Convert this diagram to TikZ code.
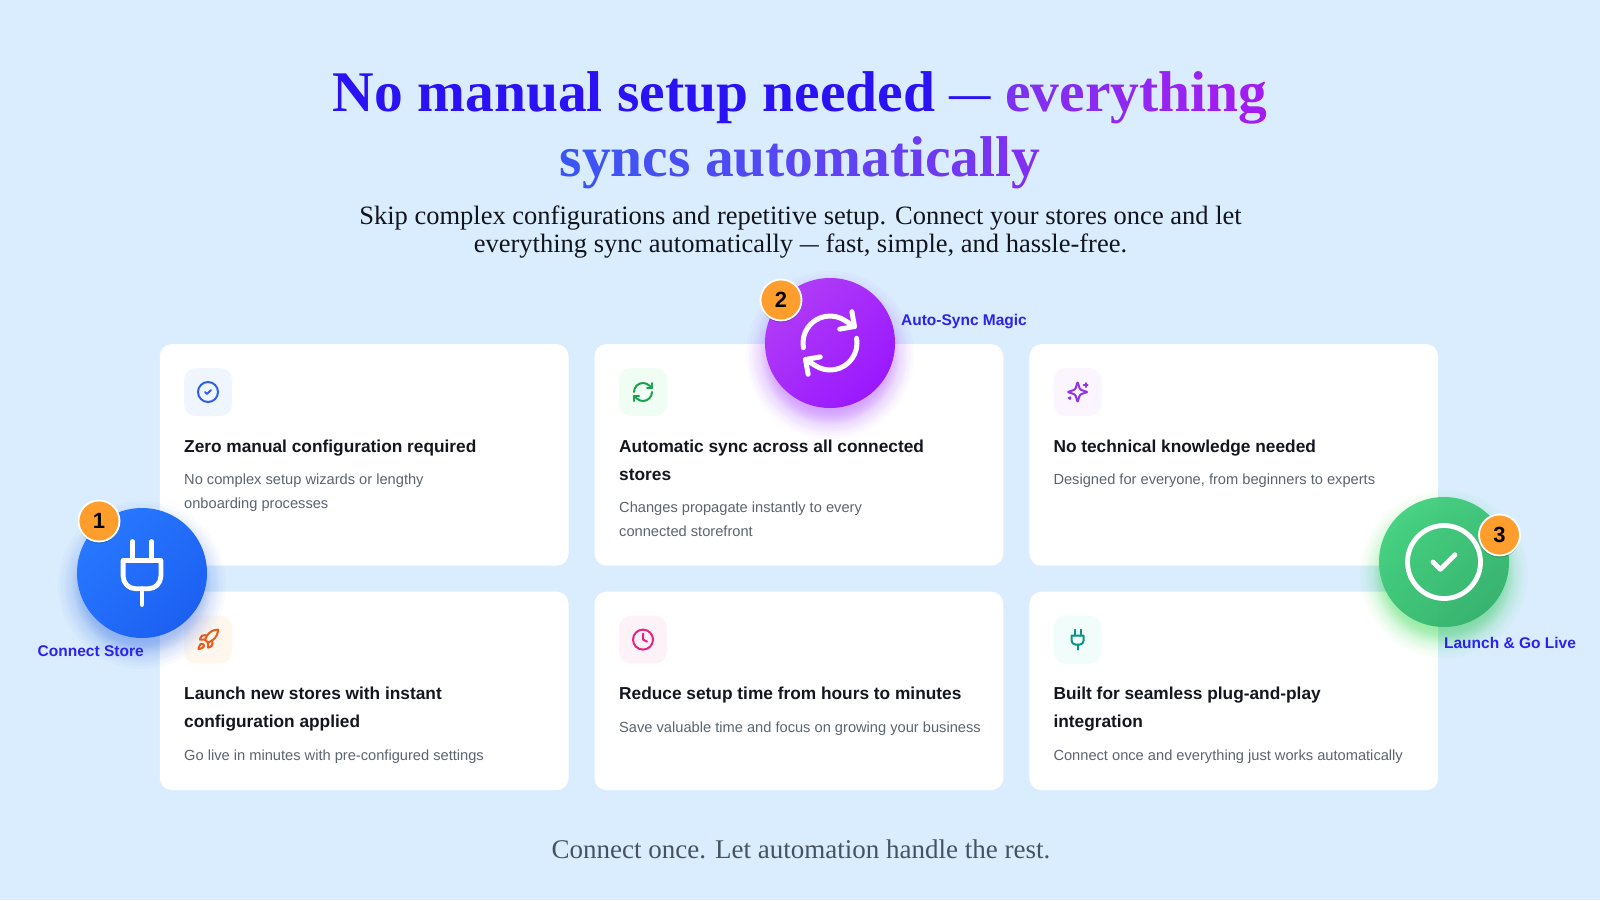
\documentclass[tikz,border=0pt]{standalone}
\usepackage{fontspec}
\usepackage{graphicx}
\setmainfont{Liberation Serif}
\setsansfont{Liberation Sans}
\usetikzlibrary{shadows}

\definecolor{pagebg}{HTML}{DAEDFE}
\definecolor{headblue}{HTML}{2A12F5}
\definecolor{gradstart}{HTML}{3B55F5}
\definecolor{gradend}{HTML}{A61CF0}
\definecolor{subink}{HTML}{12141C}
\definecolor{footink}{HTML}{46535F}
\definecolor{titleink}{HTML}{14161F}
\definecolor{descink}{HTML}{5C6470}
\definecolor{labelblue}{HTML}{2B22F0}
\definecolor{badgeorange}{HTML}{FF9E2D}
\definecolor{plugA}{HTML}{2878FF}
\definecolor{plugB}{HTML}{1C60F2}
\definecolor{syncA}{HTML}{B03CF6}
\definecolor{syncB}{HTML}{9A18FF}
\definecolor{checkA}{HTML}{42D07F}
\definecolor{checkB}{HTML}{35B26E}
\definecolor{boxblue}{HTML}{EFF6FF}
\definecolor{boxgreen}{HTML}{F0FDF4}
\definecolor{boxviolet}{HTML}{FAF5FF}
\definecolor{boxorange}{HTML}{FFF7ED}
\definecolor{boxpink}{HTML}{FDF2F8}
\definecolor{boxteal}{HTML}{F0FDFA}
\definecolor{inkblue}{HTML}{2F5FEB}
\definecolor{inkgreen}{HTML}{16A34A}
\definecolor{inkviolet}{HTML}{9333EA}
\definecolor{inkorange}{HTML}{EE5A1C}
\definecolor{inkpink}{HTML}{E9217F}
\definecolor{inkteal}{HTML}{0D9488}

\newcount\gradpct
\newcount\gradstep
\def\gradnext#1{\ifx#1\relax\else\textcolor{gradend!\the\gradpct!gradstart}{#1}\advance\gradpct by\gradstep\expandafter\gradnext\fi}
\newcommand\gradword[3]{\gradpct=#1\relax\gradstep=#2\relax\gradnext#3\relax}
\newcommand\thindash{{\mdseries\scalebox{.72}[1]{---}}}

\newcommand\drawplug{
  \draw (12,22) -- (12,17);
  \draw (9,8) -- (9,2);
  \draw (15,8) -- (15,2);
  \draw (6,8) -- (18,8) -- (18,13) arc[start angle=0,end angle=-90,radius=4pt] -- (10,17) arc[start angle=-90,end angle=-180,radius=4pt] -- cycle;
}
\newcommand\drawsync{
  \draw (3,12) arc[start angle=180,end angle=45,radius=9pt] -- (21,8);
  \draw (21,3) -- (21,8) -- (16,8);
  \draw (21,12) arc[start angle=0,end angle=-135,radius=9pt] -- (3,16);
  \draw (8,16) -- (3,16) -- (3,21);
}
\newcommand\drawcheck{
  \draw (12,12) circle[radius=10pt];
  \draw (9,12) -- (11,14) -- (15,10);
}
\newcommand\glowdisc[3]{
  \foreach \r in {46,50,53,56,58,60,61,62,63,64,65,66,67,68,69,70,72,74,76,78,81,84}
    \fill[#3,opacity=.022] (#1,#2+12) circle[radius=\r pt];
}

\tikzset{
  x=1pt, y=-1pt,
  card/.style={rectangle,fill=white,rounded corners=12pt,minimum width=408.7pt,inner sep=0pt},
  iconbox/.style={rectangle,rounded corners=12pt,minimum size=48pt,inner sep=0pt},
  headtext/.style={anchor=base,align=center,inner sep=0pt,text=headblue,font=\bfseries\fontsize{57.5}{64.5}\selectfont},
  subtext/.style={anchor=base,align=center,inner sep=0pt,text=subink,font=\fontsize{26.5}{28}\selectfont},
  foottext/.style={anchor=base,inner sep=0pt,text=footink,font=\fontsize{27}{30}\selectfont},
  cardtitle/.style={anchor=base west,align=left,inner sep=0pt,text=titleink,font=\sffamily\bfseries\fontsize{17.3}{28}\selectfont},
  carddesc/.style={anchor=base west,align=left,inner sep=0pt,text=descink,font=\sffamily\fontsize{14.65}{24}\selectfont},
  steplabel/.style={anchor=base,inner sep=0pt,text=labelblue,font=\sffamily\bfseries\fontsize{15.5}{18}\selectfont},
  bigdot/.style 2 args={circle,minimum size=130pt,inner sep=0pt,top color=#1,bottom color=#2,shading angle=45},
  badge/.style={circle,fill=badgeorange,draw=white,line width=1.8pt,minimum size=41pt,inner sep=0pt,text=black,font=\sffamily\bfseries\fontsize{22}{24}\selectfont,drop shadow={shadow xshift=0pt,shadow yshift=-2pt,opacity=.2,fill=black}},
  iconat/.style 2 args={shift={#1},scale=#2,shift={(-12,-12)},line cap=round,line join=round},
}

\begin{document}
\begin{tikzpicture}
\useasboundingbox (0,0) rectangle (1600,900);
\fill[pagebg] (0,0) rectangle (1600,900);

\node[headtext] (headline) at (800,176) {No manual setup needed \thindash{} \gradword{62}{4}{everything}\\\gradword{0}{3}{syncs}\ \gradword{17}{4}{automatically}};
\node[subtext] (subline) at (800.5,252.6) {Skip complex configurations and repetitive setup. Connect your stores once and let\\everything sync automatically \thindash{} fast, simple, and hassle-free.};
\node[foottext] (footline) at (801,858.6) {Connect once. Let automation handle the rest.};

\node[card,minimum height=221.5pt] (cardA) at (364.2,454.9) {};
\node[card,minimum height=221.5pt] (cardB) at (798.9,454.9) {};
\node[card,minimum height=221.5pt] (cardC) at (1233.8,454.9) {};
\node[card,minimum height=198.5pt] (cardD) at (364.2,690.9) {};
\node[card,minimum height=198.5pt] (cardE) at (798.9,690.9) {};
\node[card,minimum height=198.5pt] (cardF) at (1233.8,690.9) {};

\node[iconbox,fill=boxblue] (boxA) at (208,392) {};
\node[iconbox,fill=boxgreen] (boxB) at (643,392) {};
\node[iconbox,fill=boxviolet] (boxC) at (1077.6,392) {};
\node[iconbox,fill=boxorange] (boxD) at (208,639.6) {};
\node[iconbox,fill=boxpink] (boxE) at (643,639.6) {};
\node[iconbox,fill=boxteal] (boxF) at (1077.6,639.6) {};

\begin{scope}[iconat={(208,392)}{1},color=inkblue,line width=2pt]
  \drawcheck
\end{scope}
\begin{scope}[iconat={(643,392)}{1},color=inkgreen,line width=2pt]
  \drawsync
\end{scope}
\begin{scope}[iconat={(1077.6,392)}{1},color=inkviolet,line width=2pt]
  \draw[rounded corners=.7pt] (12,2) -- (14.06,8.5) -- (15.5,9.94) -- (22,12) -- (15.5,14.06) -- (14.06,15.5) -- (12,22) -- (9.94,15.5) -- (8.5,14.06) -- (2,12) -- (8.5,9.94) -- (9.94,8.5) -- cycle;
  \draw (20,3) -- (20,7);
  \draw (22,5) -- (18,5);
  \draw (4,17) -- (4,19);
  \draw (5,18) -- (3,18);
\end{scope}
\begin{scope}[iconat={(208,639.6)}{1},color=inkorange,line width=2pt]
  \draw (4.5,16.5) .. controls (3,17.76) and (2.5,21.5) .. (2.5,21.5) .. controls (2.5,21.5) and (6.24,21) .. (7.5,19.5) .. controls (8.21,18.66) and (8.2,17.37) .. (7.41,16.59) .. controls (6.63,15.84) and (5.34,15.8) .. (4.5,16.5) -- cycle;
  \draw (12,15) -- (9,12) .. controls (9.5,10.6) and (10.2,9.3) .. (11,8.05) .. controls (13.4,4.3) and (17.5,2) .. (22,2) .. controls (22,4.72) and (21.22,9.5) .. (16,13) .. controls (14.75,13.85) and (13.4,14.5) .. (12,15) -- cycle;
  \draw (9,12) -- (4,12) .. controls (4,12) and (4.55,8.97) .. (6,8) .. controls (7.62,6.92) and (11,8) .. (11,8);
  \draw (12,15) -- (12,20) .. controls (12,20) and (15.03,19.45) .. (16,18) .. controls (17.08,16.38) and (16,13) .. (16,13);
\end{scope}
\begin{scope}[iconat={(643,639.6)}{1},color=inkpink,line width=2pt]
  \draw (12,12) circle[radius=10pt];
  \draw (12,6) -- (12,12) -- (16,14);
\end{scope}
\begin{scope}[iconat={(1077.6,639.6)}{1},color=inkteal,line width=2pt]
  \drawplug
\end{scope}

\node[cardtitle] (titleA) at (184,452.3) {Zero manual configuration required};
\node[carddesc] (descA) at (184,508.3) {No complex setup wizards or lengthy\\onboarding processes};
\node[cardtitle] (titleB) at (619,480.3) {Automatic sync across all connected\\stores};
\node[carddesc] (descB) at (619,536.3) {Changes propagate instantly to every\\connected storefront};
\node[cardtitle] (titleC) at (1053.3,452.3) {No technical knowledge needed};
\node[carddesc] (descC) at (1053.3,484.3) {Designed for everyone, from beginners to experts};
\node[cardtitle] (titleD) at (184,727) {Launch new stores with instant\\configuration applied};
\node[carddesc] (descD) at (184,760) {Go live in minutes with pre-configured settings};
\node[cardtitle] (titleE) at (619,699) {Reduce setup time from hours to minutes};
\node[carddesc] (descE) at (619,732) {Save valuable time and focus on growing your business};
\node[cardtitle] (titleF) at (1053.3,727) {Built for seamless plug-and-play\\integration};
\node[carddesc] (descF) at (1053.3,760) {Connect once and everything just works automatically};

\glowdisc{142}{573}{plugB}
\node[bigdot={plugA}{plugB}] (plugDot) at (142,573) {};
\begin{scope}[iconat={(142,573)}{3.15},color=white,line width=4.8pt]
  \drawplug
\end{scope}

\glowdisc{830}{343}{syncB}
\node[bigdot={syncA}{syncB}] (syncDot) at (830,343) {};
\begin{scope}[shift={(830,343)},rotate=10,shift={(-830,-343)}]
\begin{scope}[iconat={(830,343)}{3},color=white,line width=5pt]
  \drawsync
\end{scope}
\end{scope}

\glowdisc{1444}{562}{green!70!teal}
\node[bigdot={checkA}{checkB},opacity=.95] (checkDot) at (1444,562) {};
\begin{scope}[iconat={(1444,562)}{3.65},color=white,line width=4.8pt]
  \drawcheck
\end{scope}

\node[badge] (badgeOne) at (99,521) {1};
\node[badge] (badgeTwo) at (781,300) {2};
\node[badge] (badgeThree) at (1499.5,535) {3};

\node[steplabel] (labelOne) at (90.7,656.5) {Connect Store};
\node[steplabel] (labelTwo) at (964,325) {Auto-Sync Magic};
\node[steplabel] (labelThree) at (1510,648) {Launch \& Go Live};
\end{tikzpicture}
\end{document}
